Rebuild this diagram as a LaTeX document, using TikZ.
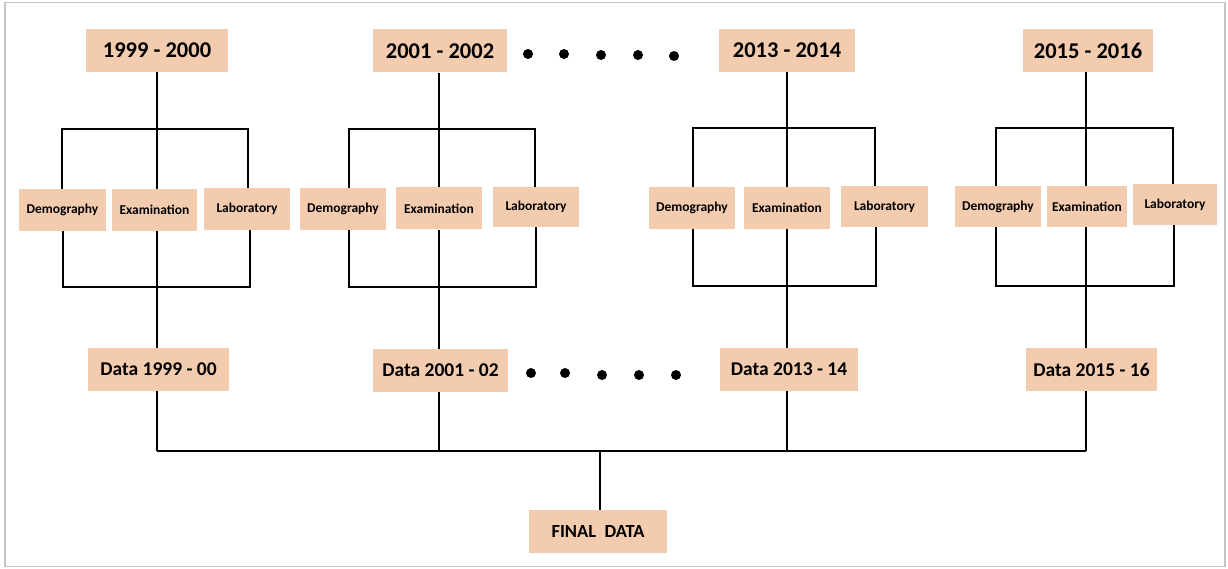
\documentclass[tikz,border=0pt]{standalone}
\usepackage{fontspec}
\setmainfont{Carlito}
\definecolor{peach}{HTML}{F3CCAF}
\definecolor{framegray}{HTML}{C4C4C4}
\begin{document}
\begin{tikzpicture}[x=1pt,y=-1pt,
  box/.style={fill=peach, draw=none, inner sep=0pt},
  yearbox/.style={box, minimum height=43pt, font=\fontsize{22.5}{26}\selectfont\bfseries},
  subbox/.style={box, minimum height=42pt, font=\fontsize{13.5}{16}\selectfont\bfseries},
  databox/.style={box, minimum height=43pt, font=\fontsize{19.5}{23}\selectfont\bfseries},
  finalbox/.style={box, minimum height=43pt, font=\fontsize{18.5}{22}\selectfont\bfseries},
  link/.style={draw=black, line width=1.6pt},
  dotmark/.style={fill=black}
]
\useasboundingbox (0,0) rectangle (1228,569);
\draw[framegray, line width=1.5pt] (5,2.5) rectangle (1225,566.5);

% line x positions
\coordinate (X1) at (157,0);
\coordinate (X2) at (439,0);
\coordinate (X3) at (787,0);
\coordinate (X4) at (1086,0);
\coordinate (M) at (600,451);

% year boxes
\node[yearbox, minimum width=142pt] (Y1) at (157,50.5) {1999 - 2000};
\node[yearbox, minimum width=134pt] (Y2) at (440,51) {2001 - 2002};
\node[yearbox, minimum width=136pt] (Y3) at (787,50.5) {2013 - 2014};
\node[yearbox, minimum width=130pt] (Y4) at (1088,50.5) {2015 - 2016};

% sub boxes
\node[subbox, minimum width=87pt] (D1) at (62.5,210) {Demography};
\node[subbox, minimum width=85pt] (E1) at (154.5,210) {Examination};
\node[subbox, minimum width=86pt] (L1) at (247,209) {Laboratory};

\node[subbox, minimum width=86pt] (D2) at (343,209) {Demography};
\node[subbox, minimum width=86pt] (E2) at (439,208.5) {Examination};
\node[subbox, minimum width=86pt, minimum height=40pt] (L2) at (536,207) {Laboratory};

\node[subbox, minimum width=86pt] (D3) at (692,208) {Demography};
\node[subbox, minimum width=86pt] (E3) at (787,208) {Examination};
\node[subbox, minimum width=87pt, minimum height=41pt] (L3) at (884.5,206.5) {Laboratory};

\node[subbox, minimum width=86pt, minimum height=41pt] (D4) at (998,206.5) {Demography};
\node[subbox, minimum width=80pt, minimum height=41pt] (E4) at (1087,206.5) {Examination};
\node[subbox, minimum width=84pt, minimum height=41pt] (L4) at (1175,204.5) {Laboratory};

% data boxes
\node[databox, minimum width=141pt] (DA1) at (158.5,369.5) {Data 1999 - 00};
\node[databox, minimum width=135pt] (DA2) at (440.5,370.5) {Data 2001 - 02};
\node[databox, minimum width=138pt] (DA3) at (789,369.5) {Data 2013 - 14};
\node[databox, minimum width=131pt] (DA4) at (1091.5,369.5) {Data 2015 - 16};

% final
\node[finalbox, minimum width=138pt] (F) at (598,531.5) {FINAL\ \ DATA};

% bracket corners
\coordinate (TL1) at (62,129);  \coordinate (TR1) at (248,129);
\coordinate (BL1) at (63,287);  \coordinate (BR1) at (250,287);
\coordinate (TL2) at (349,129); \coordinate (TR2) at (535,129);
\coordinate (BL2) at (349,287); \coordinate (BR2) at (536,287);
\coordinate (TL3) at (693,128); \coordinate (TR3) at (875,128);
\coordinate (BL3) at (693,286); \coordinate (BR3) at (876,286);
\coordinate (TL4) at (996,128); \coordinate (TR4) at (1173,128);
\coordinate (BL4) at (996,286); \coordinate (BR4) at (1174,286);

\foreach \i in {1,2,3,4}{
  \draw[link] (TL\i |- D\i.north) -- (TL\i) -- (TR\i) -- (TR\i |- L\i.north);
  \draw[link] (X\i |- Y\i.south) -- (X\i |- E\i.north);
  \draw[link] (BL\i |- D\i.south) -- (BL\i) -- (BR\i) -- (BR\i |- L\i.south);
  \draw[link] (X\i |- E\i.south) -- (X\i |- DA\i.north);
  \draw[link] (X\i |- DA\i.south) -- (X\i |- M);
}
\draw[link] (X1 |- M) -- (X4 |- M);
\draw[link] (M) -- (M |- F.north);

% dots
\foreach \x/\y in {528/54,564/54,601/55,638/55,674/56}{
  \fill[dotmark] (\x,\y) circle (5pt);
}
\foreach \x/\y in {531/373,565/373,602/375,639/375,676/375}{
  \fill[dotmark] (\x,\y) circle (5pt);
}
\end{tikzpicture}
\end{document}
